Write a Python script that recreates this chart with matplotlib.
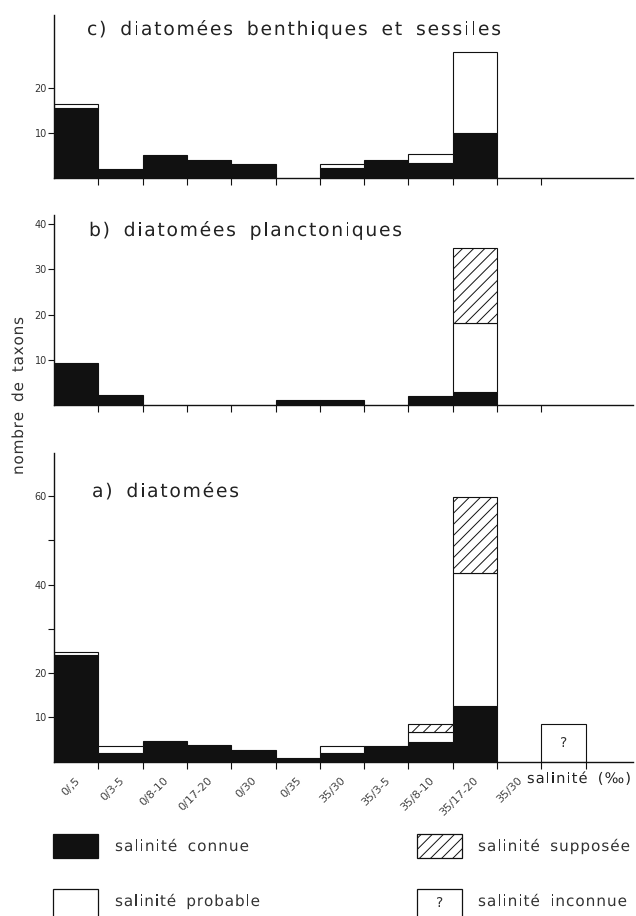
import numpy as np
import matplotlib
matplotlib.use("Agg")
import matplotlib.pyplot as plt
from matplotlib.patches import Rectangle, PathPatch
from matplotlib.textpath import TextPath
from matplotlib.font_manager import FontProperties, findfont, get_font
from matplotlib.transforms import Affine2D

W, H = 636, 916

categories = ["0/,5", "0/3-5", "0/8-10", "0/17-20", "0/30", "0/35",
              "35/30", "35/3-5", "35/8-10", "35/17-20", "35/30"]

# a) diatomées  (last bin = salinité inconnue)
a_connue = [24.0, 1.9, 4.7, 3.85, 2.65, 0.75, 1.9, 3.55, 4.5, 12.6, 0, 0]
a_probable = [0.7, 1.7, 0, 0, 0, 0, 1.65, 0, 2.1, 29.9, 0, 0]
a_supposee = [0, 0, 0, 0, 0, 0, 0, 0, 1.9, 17.2, 0, 0]
a_inconnue = [0, 0, 0, 0, 0, 0, 0, 0, 0, 0, 0, 8.4]

# b) diatomées planctoniques
b_connue = [9.3, 2.2, 0, 0, 0, 1.2, 1.2, 0, 2.0, 2.8, 0, 0]
b_probable = [0, 0, 0, 0, 0, 0, 0, 0, 0, 15.4, 0, 0]
b_supposee = [0, 0, 0, 0, 0, 0, 0, 0, 0, 16.6, 0, 0]

# c) diatomées benthiques et sessiles
c_connue = [15.6, 2.1, 5.0, 4.1, 3.0, 0, 2.2, 4.0, 3.3, 10.1, 0, 0]
c_probable = [0.9, 0, 0, 0, 0, 0, 0.8, 0, 2.0, 17.9, 0, 0]

INK = "#111111"
plt.rcParams["font.family"] = "DejaVu Sans"
plt.rcParams["hatch.linewidth"] = 0.7

PROP = FontProperties(family="DejaVu Sans")
FONT = get_font(findfont(PROP))
FONT.set_size(100, 72)

fig = plt.figure(figsize=(W / 100, H / 100), dpi=100)


def fpos(x, y):
    return x / W, 1 - y / H


def adv(ch):
    # advance width in em
    if ch == " ":
        return 0.55
    return FONT.load_char(ord(ch)).linearHoriAdvance / 65536 / 100


def spaced(x, y, s, size, length, rot=0, color="#222222"):
    # letter-spaced text drawn glyph by glyph, fitted to a length in pixels
    em = size * 100 / 72
    total = sum(adv(c) for c in s) * em
    track = (length - total) / max(len(s) - 1, 1)
    pos = 0.0
    tr = Affine2D().rotate_deg(rot).translate(x, H - y)
    for ch in s:
        if ch != " ":
            tp = TextPath((pos, 0), ch, size=em, prop=PROP)
            fig.add_artist(PathPatch(tp, transform=tr, facecolor=color, edgecolor="none"))
        pos += adv(ch) * em + track


def panel(top, bottom, ymax, ticks, ticklabels, nticks, connue, probable, supposee=None, inconnue=None):
    ax = fig.add_axes([54 / W, 1 - bottom / H, (633 - 54) / W, (bottom - top) / H])
    x = np.arange(len(connue))
    base = np.zeros(len(x))
    layers = [(connue, dict(color=INK)),
              (probable, dict(color="white")),
              (supposee, dict(color="white", hatch="///"))]
    for vals, style in layers:
        if vals is None:
            continue
        vals = np.array(vals, dtype=float)
        m = vals > 0
        ax.bar(x[m], vals[m], bottom=base[m], width=1, align="edge",
               edgecolor=INK, linewidth=0.8, **style)
        base = base + vals
    if inconnue is not None:
        vals = np.array(inconnue, dtype=float)
        m = vals > 0
        ax.bar(x[m], vals[m], bottom=base[m], width=1, align="edge",
               color="white", edgecolor=INK, linewidth=0.8)
        for xi in x[m]:
            ax.text(xi + 0.5, vals[xi] / 2, "?", ha="center", va="center", fontsize=10, color="#333")
    ax.set_xlim(0, (633 - 54) / 44.3)
    ax.set_ylim(0, ymax)
    for s in ["top", "right"]:
        ax.spines[s].set_visible(False)
    for s in ["left", "bottom"]:
        ax.spines[s].set_linewidth(1.0)
        ax.spines[s].set_color(INK)
    ax.set_xticks(np.arange(1, nticks + 1))
    ax.set_xticklabels([])
    ax.set_yticks(ticks)
    ax.set_yticklabels(ticklabels)
    ax.tick_params(axis="x", direction="out", length=5, width=0.8, color=INK)
    ax.tick_params(axis="y", direction="out", length=4, width=0.8, color=INK,
                   labelsize=7, labelcolor="#333333", pad=1)
    return ax


ax_c = panel(15, 178, 36.2, [10, 20], ["10", "20"], 11, c_connue, c_probable)
ax_b = panel(215, 405, 42.0, [10, 20, 30, 40], ["10", "20", "30", "40"], 11,
             b_connue, b_probable, b_supposee)
ax_a = panel(453, 761.7, 69.7, [10, 20, 30, 40, 50, 60], ["10", "20", "", "40", "", "60"], 12,
             a_connue, a_probable, a_supposee, a_inconnue)

for i, lab in enumerate(categories):
    ax_a.annotate(lab, xy=(i + 0.5, 0), xytext=(4, -10), textcoords="offset points",
                  rotation=45, ha="right", va="top", fontsize=8, color="#444444")

# titles
spaced(87, 35, "c) diatomées benthiques et sessiles", 13.5, 414)
spaced(89, 236, "b) diatomées planctoniques", 13.5, 313)
spaced(92, 497, "a) diatomées", 13.5, 147)

# axis labels
spaced(23, 475, "nombre de taxons", 11, 158, rot=90, color="#333333")
spaced(527, 783, "salinité (‰)", 10.5, 104)

# legend
def box(x, y, w, h, **kw):
    fig.add_artist(Rectangle(fpos(x, y + h), w / W, h / H, transform=fig.transFigure,
                             edgecolor=INK, linewidth=0.9, **kw))

box(53, 834, 45, 24, facecolor=INK)
box(417, 834, 45, 24, facecolor="white", hatch="///")
box(53, 889, 45, 30, facecolor="white")
box(417, 889, 45, 30, facecolor="white")
fig.text(*fpos(439.5, 903), "?", ha="center", va="center", fontsize=10, color="#333333")

spaced(115, 851, "salinité connue", 11, 134, color="#333333")
spaced(478, 851, "salinité supposée", 11, 152, color="#333333")
spaced(115, 906, "salinité probable", 11, 145, color="#333333")
spaced(478, 906, "salinité inconnue", 11, 149, color="#333333")

fig.savefig("out.png", dpi=100, facecolor="white")
